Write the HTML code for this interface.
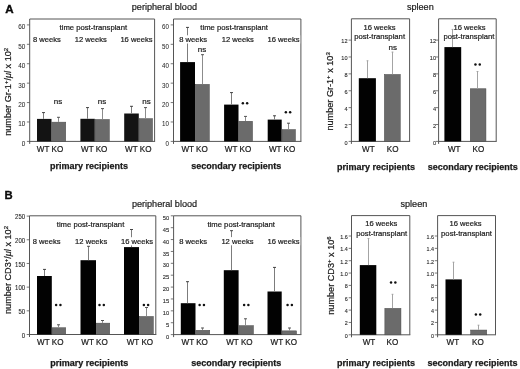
<!DOCTYPE html>
<html><head><meta charset="utf-8"><style>
html,body{margin:0;padding:0;background:#fff;}
body{width:520px;height:369px;overflow:hidden;}
svg{display:block;font-family:"Liberation Sans", sans-serif;will-change:transform;filter:blur(0.35px);}
</style></head><body>
<svg width="520" height="369" viewBox="0 0 520 369">
<rect width="520" height="369" fill="#fff"/>
<path d="M29.70 143.90 V19.00 H154.60 V141.40" fill="none" stroke="#555555" stroke-width="1"/>
<path d="M29.20 141.40 H155.10" fill="none" stroke="#555555" stroke-width="1"/>
<path d="M26.90 141.40 H29.70" stroke="#555555" stroke-width="0.8"/>
<text transform="translate(25.40,145.91) scale(1,1.05)" font-size="6.4" text-anchor="end" font-weight="normal" fill="#2a2a2a" stroke="#2a2a2a" stroke-width="0.04">0</text>
<path d="M26.90 121.98 H29.70" stroke="#555555" stroke-width="0.8"/>
<text transform="translate(25.40,126.49) scale(1,1.05)" font-size="6.4" text-anchor="end" font-weight="normal" fill="#2a2a2a" stroke="#2a2a2a" stroke-width="0.04">10</text>
<path d="M26.90 102.57 H29.70" stroke="#555555" stroke-width="0.8"/>
<text transform="translate(25.40,107.07) scale(1,1.05)" font-size="6.4" text-anchor="end" font-weight="normal" fill="#2a2a2a" stroke="#2a2a2a" stroke-width="0.04">20</text>
<path d="M26.90 83.15 H29.70" stroke="#555555" stroke-width="0.8"/>
<text transform="translate(25.40,87.66) scale(1,1.05)" font-size="6.4" text-anchor="end" font-weight="normal" fill="#2a2a2a" stroke="#2a2a2a" stroke-width="0.04">30</text>
<path d="M26.90 63.73 H29.70" stroke="#555555" stroke-width="0.8"/>
<text transform="translate(25.40,68.24) scale(1,1.05)" font-size="6.4" text-anchor="end" font-weight="normal" fill="#2a2a2a" stroke="#2a2a2a" stroke-width="0.04">40</text>
<path d="M26.90 44.32 H29.70" stroke="#555555" stroke-width="0.8"/>
<text transform="translate(25.40,48.82) scale(1,1.05)" font-size="6.4" text-anchor="end" font-weight="normal" fill="#2a2a2a" stroke="#2a2a2a" stroke-width="0.04">50</text>
<path d="M26.90 24.90 H29.70" stroke="#555555" stroke-width="0.8"/>
<text transform="translate(25.40,29.41) scale(1,1.05)" font-size="6.4" text-anchor="end" font-weight="normal" fill="#2a2a2a" stroke="#2a2a2a" stroke-width="0.04">60</text>
<rect x="37.00" y="118.90" width="14.50" height="22.50" fill="#131313"/>
<rect x="51.75" y="122.15" width="14.00" height="19.25" fill="#6b6b6b" stroke="#4a4a4a" stroke-width="0.5"/>
<rect x="80.40" y="118.80" width="14.40" height="22.60" fill="#131313"/>
<rect x="95.05" y="119.45" width="14.30" height="21.95" fill="#6b6b6b" stroke="#4a4a4a" stroke-width="0.5"/>
<rect x="124.20" y="113.50" width="14.60" height="27.90" fill="#131313"/>
<rect x="139.05" y="118.65" width="13.50" height="22.75" fill="#6b6b6b" stroke="#4a4a4a" stroke-width="0.5"/>
<path d="M43.50 118.90 V112.40" stroke="#7c7c7c" stroke-width="1" fill="none"/>
<path d="M42.00 112.60 H45.00" stroke="#444444" stroke-width="1" fill="none"/>
<path d="M58.50 121.90 V117.10" stroke="#8c8c8c" stroke-width="1" fill="none"/>
<path d="M57.00 117.30 H60.00" stroke="#555555" stroke-width="1" fill="none"/>
<path d="M87.50 118.80 V107.40" stroke="#7c7c7c" stroke-width="1" fill="none"/>
<path d="M86.00 107.60 H89.00" stroke="#444444" stroke-width="1" fill="none"/>
<path d="M102.50 119.20 V108.40" stroke="#8c8c8c" stroke-width="1" fill="none"/>
<path d="M101.00 108.60 H104.00" stroke="#555555" stroke-width="1" fill="none"/>
<path d="M131.50 113.50 V106.10" stroke="#7c7c7c" stroke-width="1" fill="none"/>
<path d="M130.00 106.30 H133.00" stroke="#444444" stroke-width="1" fill="none"/>
<path d="M145.50 118.40 V107.40" stroke="#8c8c8c" stroke-width="1" fill="none"/>
<path d="M144.00 107.60 H147.00" stroke="#555555" stroke-width="1" fill="none"/>
<rect x="58.90" y="22.50" width="68.80" height="8.20" fill="#fff"/>
<rect x="32.30" y="35.00" width="29.10" height="8.20" fill="#fff"/>
<rect x="74.10" y="35.00" width="33.30" height="8.20" fill="#fff"/>
<rect x="119.80" y="35.00" width="33.30" height="8.20" fill="#fff"/>
<text transform="translate(93.30,29.50) scale(1,1.04)" font-size="7.7" text-anchor="middle" font-weight="normal" fill="#1a1a1a" stroke="#1a1a1a" stroke-width="0.2">time post-transplant</text>
<text transform="translate(32.90,41.97) scale(1,1.04)" font-size="7.6" text-anchor="start" font-weight="normal" fill="#1a1a1a" stroke="#1a1a1a" stroke-width="0.2">8 weeks</text>
<text transform="translate(74.70,41.97) scale(1,1.04)" font-size="7.6" text-anchor="start" font-weight="normal" fill="#1a1a1a" stroke="#1a1a1a" stroke-width="0.2">12 weeks</text>
<text transform="translate(120.40,41.97) scale(1,1.04)" font-size="7.6" text-anchor="start" font-weight="normal" fill="#1a1a1a" stroke="#1a1a1a" stroke-width="0.2">16 weeks</text>
<text transform="translate(57.90,103.98)" font-size="8.0" text-anchor="middle" font-weight="normal" fill="#1a1a1a" stroke="#1a1a1a" stroke-width="0.2">ns</text>
<text transform="translate(102.00,103.98)" font-size="8.0" text-anchor="middle" font-weight="normal" fill="#1a1a1a" stroke="#1a1a1a" stroke-width="0.2">ns</text>
<text transform="translate(146.40,103.98)" font-size="8.0" text-anchor="middle" font-weight="normal" fill="#1a1a1a" stroke="#1a1a1a" stroke-width="0.2">ns</text>
<text transform="translate(50.00,152.29) scale(1,1.09)" font-size="8.1" text-anchor="middle" font-weight="normal" fill="#1a1a1a" stroke="#1a1a1a" stroke-width="0.2">WT KO</text>
<text transform="translate(94.20,152.29) scale(1,1.09)" font-size="8.1" text-anchor="middle" font-weight="normal" fill="#1a1a1a" stroke="#1a1a1a" stroke-width="0.2">WT KO</text>
<text transform="translate(138.30,152.29) scale(1,1.09)" font-size="8.1" text-anchor="middle" font-weight="normal" fill="#1a1a1a" stroke="#1a1a1a" stroke-width="0.2">WT KO</text>
<text transform="translate(89.00,169.34)" font-size="9.0" text-anchor="middle" font-weight="bold" fill="#1a1a1a" stroke="#1a1a1a" stroke-width="0.25">primary recipients</text>
<path d="M173.50 143.90 V19.00 H300.90 V141.40" fill="none" stroke="#555555" stroke-width="1"/>
<path d="M173.00 141.40 H301.40" fill="none" stroke="#555555" stroke-width="1"/>
<path d="M170.70 141.40 H173.50" stroke="#555555" stroke-width="0.8"/>
<text transform="translate(168.90,145.83) scale(1,1.05)" font-size="6.2" text-anchor="end" font-weight="normal" fill="#2a2a2a" stroke="#2a2a2a" stroke-width="0.04">0</text>
<path d="M170.70 121.98 H173.50" stroke="#555555" stroke-width="0.8"/>
<text transform="translate(168.90,126.41) scale(1,1.05)" font-size="6.2" text-anchor="end" font-weight="normal" fill="#2a2a2a" stroke="#2a2a2a" stroke-width="0.04">10</text>
<path d="M170.70 102.57 H173.50" stroke="#555555" stroke-width="0.8"/>
<text transform="translate(168.90,107.00) scale(1,1.05)" font-size="6.2" text-anchor="end" font-weight="normal" fill="#2a2a2a" stroke="#2a2a2a" stroke-width="0.04">20</text>
<path d="M170.70 83.15 H173.50" stroke="#555555" stroke-width="0.8"/>
<text transform="translate(168.90,87.58) scale(1,1.05)" font-size="6.2" text-anchor="end" font-weight="normal" fill="#2a2a2a" stroke="#2a2a2a" stroke-width="0.04">30</text>
<path d="M170.70 63.73 H173.50" stroke="#555555" stroke-width="0.8"/>
<text transform="translate(168.90,68.16) scale(1,1.05)" font-size="6.2" text-anchor="end" font-weight="normal" fill="#2a2a2a" stroke="#2a2a2a" stroke-width="0.04">40</text>
<path d="M170.70 44.32 H173.50" stroke="#555555" stroke-width="0.8"/>
<text transform="translate(168.90,48.75) scale(1,1.05)" font-size="6.2" text-anchor="end" font-weight="normal" fill="#2a2a2a" stroke="#2a2a2a" stroke-width="0.04">50</text>
<path d="M170.70 24.90 H173.50" stroke="#555555" stroke-width="0.8"/>
<text transform="translate(168.90,29.33) scale(1,1.05)" font-size="6.2" text-anchor="end" font-weight="normal" fill="#2a2a2a" stroke="#2a2a2a" stroke-width="0.04">60</text>
<rect x="180.10" y="62.10" width="14.90" height="79.30" fill="#020202"/>
<rect x="195.25" y="84.35" width="14.10" height="57.05" fill="#6b6b6b" stroke="#4a4a4a" stroke-width="0.5"/>
<rect x="224.10" y="104.60" width="14.40" height="36.80" fill="#020202"/>
<rect x="238.75" y="121.25" width="13.80" height="20.15" fill="#6b6b6b" stroke="#4a4a4a" stroke-width="0.5"/>
<rect x="267.70" y="119.60" width="14.00" height="21.80" fill="#020202"/>
<rect x="281.95" y="129.55" width="13.50" height="11.85" fill="#6b6b6b" stroke="#4a4a4a" stroke-width="0.5"/>
<path d="M187.50 62.10 V27.20" stroke="#7c7c7c" stroke-width="1" fill="none"/>
<path d="M186.00 27.40 H189.00" stroke="#444444" stroke-width="1" fill="none"/>
<path d="M202.50 84.10 V54.50" stroke="#8c8c8c" stroke-width="1" fill="none"/>
<path d="M201.00 54.70 H204.00" stroke="#555555" stroke-width="1" fill="none"/>
<path d="M231.50 104.60 V92.40" stroke="#7c7c7c" stroke-width="1" fill="none"/>
<path d="M230.00 92.60 H233.00" stroke="#444444" stroke-width="1" fill="none"/>
<path d="M245.50 121.00 V116.20" stroke="#8c8c8c" stroke-width="1" fill="none"/>
<path d="M244.00 116.40 H247.00" stroke="#555555" stroke-width="1" fill="none"/>
<path d="M274.50 119.60 V115.60" stroke="#7c7c7c" stroke-width="1" fill="none"/>
<path d="M273.00 115.80 H276.00" stroke="#444444" stroke-width="1" fill="none"/>
<path d="M288.50 129.30 V123.00" stroke="#8c8c8c" stroke-width="1" fill="none"/>
<path d="M287.00 123.20 H290.00" stroke="#555555" stroke-width="1" fill="none"/>
<rect x="199.70" y="22.80" width="68.80" height="8.20" fill="#fff"/>
<rect x="178.60" y="35.30" width="29.10" height="8.20" fill="#fff"/>
<rect x="221.10" y="35.30" width="33.30" height="8.20" fill="#fff"/>
<rect x="266.90" y="35.30" width="33.30" height="8.20" fill="#fff"/>
<text transform="translate(234.10,29.80) scale(1,1.04)" font-size="7.7" text-anchor="middle" font-weight="normal" fill="#1a1a1a" stroke="#1a1a1a" stroke-width="0.2">time post-transplant</text>
<text transform="translate(179.20,42.27) scale(1,1.04)" font-size="7.6" text-anchor="start" font-weight="normal" fill="#1a1a1a" stroke="#1a1a1a" stroke-width="0.2">8 weeks</text>
<text transform="translate(221.70,42.27) scale(1,1.04)" font-size="7.6" text-anchor="start" font-weight="normal" fill="#1a1a1a" stroke="#1a1a1a" stroke-width="0.2">12 weeks</text>
<text transform="translate(267.50,42.27) scale(1,1.04)" font-size="7.6" text-anchor="start" font-weight="normal" fill="#1a1a1a" stroke="#1a1a1a" stroke-width="0.2">16 weeks</text>
<text transform="translate(202.00,52.48)" font-size="8.0" text-anchor="middle" font-weight="normal" fill="#1a1a1a" stroke="#1a1a1a" stroke-width="0.2">ns</text>
<circle cx="242.85" cy="103.20" r="1.25" fill="#111"/>
<circle cx="247.15" cy="103.20" r="1.25" fill="#111"/>
<circle cx="285.85" cy="112.30" r="1.25" fill="#111"/>
<circle cx="290.15" cy="112.30" r="1.25" fill="#111"/>
<text transform="translate(194.60,152.19) scale(1,1.09)" font-size="8.1" text-anchor="middle" font-weight="normal" fill="#1a1a1a" stroke="#1a1a1a" stroke-width="0.2">WT KO</text>
<text transform="translate(238.00,152.19) scale(1,1.09)" font-size="8.1" text-anchor="middle" font-weight="normal" fill="#1a1a1a" stroke="#1a1a1a" stroke-width="0.2">WT KO</text>
<text transform="translate(282.10,152.19) scale(1,1.09)" font-size="8.1" text-anchor="middle" font-weight="normal" fill="#1a1a1a" stroke="#1a1a1a" stroke-width="0.2">WT KO</text>
<text transform="translate(236.20,169.34)" font-size="9.0" text-anchor="middle" font-weight="bold" fill="#1a1a1a" stroke="#1a1a1a" stroke-width="0.25">secondary recipients</text>
<path d="M351.40 143.90 V18.80 H409.60 V141.40" fill="none" stroke="#555555" stroke-width="1"/>
<path d="M350.90 141.40 H410.10" fill="none" stroke="#555555" stroke-width="1"/>
<path d="M348.60 141.40 H351.40" stroke="#555555" stroke-width="0.8"/>
<text transform="translate(347.60,144.71) scale(1,1.05)" font-size="5.6" text-anchor="end" font-weight="normal" fill="#2a2a2a" stroke="#2a2a2a" stroke-width="0.1">0</text>
<path d="M348.60 124.52 H351.40" stroke="#555555" stroke-width="0.8"/>
<text transform="translate(347.60,127.82) scale(1,1.05)" font-size="5.6" text-anchor="end" font-weight="normal" fill="#2a2a2a" stroke="#2a2a2a" stroke-width="0.1">2</text>
<path d="M348.60 107.63 H351.40" stroke="#555555" stroke-width="0.8"/>
<text transform="translate(347.60,110.94) scale(1,1.05)" font-size="5.6" text-anchor="end" font-weight="normal" fill="#2a2a2a" stroke="#2a2a2a" stroke-width="0.1">4</text>
<path d="M348.60 90.75 H351.40" stroke="#555555" stroke-width="0.8"/>
<text transform="translate(347.60,94.06) scale(1,1.05)" font-size="5.6" text-anchor="end" font-weight="normal" fill="#2a2a2a" stroke="#2a2a2a" stroke-width="0.1">6</text>
<path d="M348.60 73.87 H351.40" stroke="#555555" stroke-width="0.8"/>
<text transform="translate(347.60,77.17) scale(1,1.05)" font-size="5.6" text-anchor="end" font-weight="normal" fill="#2a2a2a" stroke="#2a2a2a" stroke-width="0.1">8</text>
<path d="M348.60 56.98 H351.40" stroke="#555555" stroke-width="0.8"/>
<text transform="translate(347.60,60.29) scale(1,1.05)" font-size="5.6" text-anchor="end" font-weight="normal" fill="#2a2a2a" stroke="#2a2a2a" stroke-width="0.1">10</text>
<path d="M348.60 40.10 H351.40" stroke="#555555" stroke-width="0.8"/>
<text transform="translate(347.60,43.41) scale(1,1.05)" font-size="5.6" text-anchor="end" font-weight="normal" fill="#2a2a2a" stroke="#2a2a2a" stroke-width="0.1">12</text>
<rect x="358.80" y="78.20" width="17.10" height="63.20" fill="#020202"/>
<rect x="384.35" y="74.45" width="15.90" height="66.95" fill="#6b6b6b" stroke="#4a4a4a" stroke-width="0.5"/>
<path d="M367.50 78.20 V60.60" stroke="#a4a4a4" stroke-width="1" fill="none"/>
<path d="M366.60 60.80 H368.40" stroke="#a4a4a4" stroke-width="1" fill="none"/>
<path d="M392.50 74.20 V51.90" stroke="#a4a4a4" stroke-width="1" fill="none"/>
<path d="M391.60 52.10 H393.40" stroke="#a4a4a4" stroke-width="1" fill="none"/>
<text transform="translate(379.60,29.67) scale(1,1.04)" font-size="7.6" text-anchor="middle" font-weight="normal" fill="#1a1a1a" stroke="#1a1a1a" stroke-width="0.2">16 weeks</text>
<text transform="translate(379.60,39.10) scale(1,1.04)" font-size="7.7" text-anchor="middle" font-weight="normal" fill="#1a1a1a" stroke="#1a1a1a" stroke-width="0.2">post-transplant</text>
<text transform="translate(392.70,49.98)" font-size="8.0" text-anchor="middle" font-weight="normal" fill="#1a1a1a" stroke="#1a1a1a" stroke-width="0.2">ns</text>
<text transform="translate(368.40,152.29) scale(1,1.09)" font-size="8.1" text-anchor="middle" font-weight="normal" fill="#1a1a1a" stroke="#1a1a1a" stroke-width="0.2">WT</text>
<text transform="translate(392.60,152.29) scale(1,1.09)" font-size="8.1" text-anchor="middle" font-weight="normal" fill="#1a1a1a" stroke="#1a1a1a" stroke-width="0.2">KO</text>
<text transform="translate(376.00,169.54)" font-size="9.0" text-anchor="middle" font-weight="bold" fill="#1a1a1a" stroke="#1a1a1a" stroke-width="0.25">primary recipients</text>
<path d="M438.60 143.90 V18.80 H496.20 V141.40" fill="none" stroke="#555555" stroke-width="1"/>
<path d="M438.10 141.40 H496.70" fill="none" stroke="#555555" stroke-width="1"/>
<path d="M435.80 141.40 H438.60" stroke="#555555" stroke-width="0.8"/>
<text transform="translate(436.00,144.71) scale(1,1.05)" font-size="5.6" text-anchor="end" font-weight="normal" fill="#2a2a2a" stroke="#2a2a2a" stroke-width="0.1">0</text>
<path d="M435.80 124.52 H438.60" stroke="#555555" stroke-width="0.8"/>
<text transform="translate(436.00,127.82) scale(1,1.05)" font-size="5.6" text-anchor="end" font-weight="normal" fill="#2a2a2a" stroke="#2a2a2a" stroke-width="0.1">2</text>
<path d="M435.80 107.63 H438.60" stroke="#555555" stroke-width="0.8"/>
<text transform="translate(436.00,110.94) scale(1,1.05)" font-size="5.6" text-anchor="end" font-weight="normal" fill="#2a2a2a" stroke="#2a2a2a" stroke-width="0.1">4</text>
<path d="M435.80 90.75 H438.60" stroke="#555555" stroke-width="0.8"/>
<text transform="translate(436.00,94.06) scale(1,1.05)" font-size="5.6" text-anchor="end" font-weight="normal" fill="#2a2a2a" stroke="#2a2a2a" stroke-width="0.1">6</text>
<path d="M435.80 73.87 H438.60" stroke="#555555" stroke-width="0.8"/>
<text transform="translate(436.00,77.17) scale(1,1.05)" font-size="5.6" text-anchor="end" font-weight="normal" fill="#2a2a2a" stroke="#2a2a2a" stroke-width="0.1">8</text>
<path d="M435.80 56.98 H438.60" stroke="#555555" stroke-width="0.8"/>
<text transform="translate(436.00,60.29) scale(1,1.05)" font-size="5.6" text-anchor="end" font-weight="normal" fill="#2a2a2a" stroke="#2a2a2a" stroke-width="0.1">10</text>
<path d="M435.80 40.10 H438.60" stroke="#555555" stroke-width="0.8"/>
<text transform="translate(436.00,43.41) scale(1,1.05)" font-size="5.6" text-anchor="end" font-weight="normal" fill="#2a2a2a" stroke="#2a2a2a" stroke-width="0.1">12</text>
<rect x="444.40" y="47.10" width="16.80" height="94.30" fill="#020202"/>
<rect x="470.25" y="88.75" width="15.70" height="52.65" fill="#6b6b6b" stroke="#4a4a4a" stroke-width="0.5"/>
<path d="M452.50 47.10 V29.20" stroke="#a4a4a4" stroke-width="1" fill="none"/>
<path d="M451.60 29.40 H453.40" stroke="#a4a4a4" stroke-width="1" fill="none"/>
<path d="M477.50 88.50 V71.30" stroke="#a4a4a4" stroke-width="1" fill="none"/>
<path d="M476.60 71.50 H478.40" stroke="#a4a4a4" stroke-width="1" fill="none"/>
<text transform="translate(469.60,29.67) scale(1,1.04)" font-size="7.6" text-anchor="middle" font-weight="normal" fill="#1a1a1a" stroke="#1a1a1a" stroke-width="0.2">16 weeks</text>
<text transform="translate(468.90,39.10) scale(1,1.04)" font-size="7.7" text-anchor="middle" font-weight="normal" fill="#1a1a1a" stroke="#1a1a1a" stroke-width="0.2">post-transplant</text>
<circle cx="475.45" cy="64.40" r="1.25" fill="#111"/>
<circle cx="479.75" cy="64.40" r="1.25" fill="#111"/>
<text transform="translate(454.20,152.29) scale(1,1.09)" font-size="8.1" text-anchor="middle" font-weight="normal" fill="#1a1a1a" stroke="#1a1a1a" stroke-width="0.2">WT</text>
<text transform="translate(478.40,152.29) scale(1,1.09)" font-size="8.1" text-anchor="middle" font-weight="normal" fill="#1a1a1a" stroke="#1a1a1a" stroke-width="0.2">KO</text>
<text transform="translate(472.70,169.54)" font-size="9.0" text-anchor="middle" font-weight="bold" fill="#1a1a1a" stroke="#1a1a1a" stroke-width="0.25">secondary recipients</text>
<path d="M29.50 337.00 V215.80 H155.80 V334.50" fill="none" stroke="#555555" stroke-width="1"/>
<path d="M29.00 334.50 H156.30" fill="none" stroke="#555555" stroke-width="1"/>
<path d="M26.70 334.50 H29.50" stroke="#555555" stroke-width="0.8"/>
<text transform="translate(25.10,337.56) scale(1,1.05)" font-size="6.0" text-anchor="end" font-weight="normal" fill="#2a2a2a" stroke="#2a2a2a" stroke-width="0.1">0</text>
<path d="M26.70 310.82 H29.50" stroke="#555555" stroke-width="0.8"/>
<text transform="translate(25.10,313.88) scale(1,1.05)" font-size="6.0" text-anchor="end" font-weight="normal" fill="#2a2a2a" stroke="#2a2a2a" stroke-width="0.1">50</text>
<path d="M26.70 287.14 H29.50" stroke="#555555" stroke-width="0.8"/>
<text transform="translate(25.10,290.20) scale(1,1.05)" font-size="6.0" text-anchor="end" font-weight="normal" fill="#2a2a2a" stroke="#2a2a2a" stroke-width="0.1">100</text>
<path d="M26.70 263.46 H29.50" stroke="#555555" stroke-width="0.8"/>
<text transform="translate(25.10,266.52) scale(1,1.05)" font-size="6.0" text-anchor="end" font-weight="normal" fill="#2a2a2a" stroke="#2a2a2a" stroke-width="0.1">150</text>
<path d="M26.70 239.78 H29.50" stroke="#555555" stroke-width="0.8"/>
<text transform="translate(25.10,242.84) scale(1,1.05)" font-size="6.0" text-anchor="end" font-weight="normal" fill="#2a2a2a" stroke="#2a2a2a" stroke-width="0.1">200</text>
<path d="M26.70 216.10 H29.50" stroke="#555555" stroke-width="0.8"/>
<text transform="translate(25.10,219.16) scale(1,1.05)" font-size="6.0" text-anchor="end" font-weight="normal" fill="#2a2a2a" stroke="#2a2a2a" stroke-width="0.1">250</text>
<rect x="37.00" y="276.00" width="14.80" height="58.50" fill="#020202"/>
<rect x="52.05" y="327.75" width="13.70" height="6.75" fill="#6b6b6b" stroke="#4a4a4a" stroke-width="0.5"/>
<rect x="80.50" y="260.20" width="15.50" height="74.30" fill="#020202"/>
<rect x="96.25" y="323.15" width="13.50" height="11.35" fill="#6b6b6b" stroke="#4a4a4a" stroke-width="0.5"/>
<rect x="124.00" y="247.10" width="15.00" height="87.40" fill="#020202"/>
<rect x="139.25" y="316.45" width="14.10" height="18.05" fill="#6b6b6b" stroke="#4a4a4a" stroke-width="0.5"/>
<path d="M44.50 276.00 V269.20" stroke="#7c7c7c" stroke-width="1" fill="none"/>
<path d="M43.00 269.40 H46.00" stroke="#444444" stroke-width="1" fill="none"/>
<path d="M58.50 327.50 V324.60" stroke="#8c8c8c" stroke-width="1" fill="none"/>
<path d="M57.00 324.80 H60.00" stroke="#555555" stroke-width="1" fill="none"/>
<path d="M88.50 260.20 V246.00" stroke="#7c7c7c" stroke-width="1" fill="none"/>
<path d="M87.00 246.20 H90.00" stroke="#444444" stroke-width="1" fill="none"/>
<path d="M102.50 322.90 V320.30" stroke="#8c8c8c" stroke-width="1" fill="none"/>
<path d="M101.00 320.50 H104.00" stroke="#555555" stroke-width="1" fill="none"/>
<path d="M131.50 247.10 V229.30" stroke="#7c7c7c" stroke-width="1" fill="none"/>
<path d="M130.00 229.50 H133.00" stroke="#444444" stroke-width="1" fill="none"/>
<path d="M146.50 316.20 V307.30" stroke="#8c8c8c" stroke-width="1" fill="none"/>
<path d="M145.00 307.50 H148.00" stroke="#555555" stroke-width="1" fill="none"/>
<rect x="56.10" y="220.00" width="68.80" height="8.20" fill="#fff"/>
<rect x="32.10" y="237.20" width="29.10" height="8.20" fill="#fff"/>
<rect x="74.50" y="237.20" width="33.30" height="8.20" fill="#fff"/>
<rect x="120.40" y="237.20" width="33.30" height="8.20" fill="#fff"/>
<text transform="translate(90.50,227.00) scale(1,1.04)" font-size="7.7" text-anchor="middle" font-weight="normal" fill="#1a1a1a" stroke="#1a1a1a" stroke-width="0.2">time post-transplant</text>
<text transform="translate(32.70,244.17) scale(1,1.04)" font-size="7.6" text-anchor="start" font-weight="normal" fill="#1a1a1a" stroke="#1a1a1a" stroke-width="0.2">8 weeks</text>
<text transform="translate(75.10,244.17) scale(1,1.04)" font-size="7.6" text-anchor="start" font-weight="normal" fill="#1a1a1a" stroke="#1a1a1a" stroke-width="0.2">12 weeks</text>
<text transform="translate(121.00,244.17) scale(1,1.04)" font-size="7.6" text-anchor="start" font-weight="normal" fill="#1a1a1a" stroke="#1a1a1a" stroke-width="0.2">16 weeks</text>
<circle cx="56.15" cy="305.10" r="1.25" fill="#111"/>
<circle cx="60.45" cy="305.10" r="1.25" fill="#111"/>
<circle cx="99.50" cy="305.10" r="1.25" fill="#111"/>
<circle cx="103.80" cy="305.10" r="1.25" fill="#111"/>
<circle cx="143.85" cy="304.90" r="1.25" fill="#111"/>
<circle cx="148.15" cy="304.90" r="1.25" fill="#111"/>
<text transform="translate(50.30,345.19) scale(1,1.09)" font-size="8.1" text-anchor="middle" font-weight="normal" fill="#1a1a1a" stroke="#1a1a1a" stroke-width="0.2">WT KO</text>
<text transform="translate(94.50,345.19) scale(1,1.09)" font-size="8.1" text-anchor="middle" font-weight="normal" fill="#1a1a1a" stroke="#1a1a1a" stroke-width="0.2">WT KO</text>
<text transform="translate(139.90,345.19) scale(1,1.09)" font-size="8.1" text-anchor="middle" font-weight="normal" fill="#1a1a1a" stroke="#1a1a1a" stroke-width="0.2">WT KO</text>
<text transform="translate(89.20,366.04)" font-size="9.0" text-anchor="middle" font-weight="bold" fill="#1a1a1a" stroke="#1a1a1a" stroke-width="0.25">primary recipients</text>
<path d="M173.60 337.10 V215.80 H300.90 V334.60" fill="none" stroke="#555555" stroke-width="1"/>
<path d="M173.10 334.60 H301.40" fill="none" stroke="#555555" stroke-width="1"/>
<path d="M170.80 334.60 H173.60" stroke="#555555" stroke-width="0.8"/>
<text transform="translate(169.20,338.68) scale(1,1.05)" font-size="5.8" text-anchor="end" font-weight="normal" fill="#2a2a2a" stroke="#2a2a2a" stroke-width="0.1">0</text>
<path d="M170.80 322.72 H173.60" stroke="#555555" stroke-width="0.8"/>
<text transform="translate(169.20,326.80) scale(1,1.05)" font-size="5.8" text-anchor="end" font-weight="normal" fill="#2a2a2a" stroke="#2a2a2a" stroke-width="0.1">5</text>
<path d="M170.80 310.84 H173.60" stroke="#555555" stroke-width="0.8"/>
<text transform="translate(169.20,314.92) scale(1,1.05)" font-size="5.8" text-anchor="end" font-weight="normal" fill="#2a2a2a" stroke="#2a2a2a" stroke-width="0.1">10</text>
<path d="M170.80 298.96 H173.60" stroke="#555555" stroke-width="0.8"/>
<text transform="translate(169.20,303.04) scale(1,1.05)" font-size="5.8" text-anchor="end" font-weight="normal" fill="#2a2a2a" stroke="#2a2a2a" stroke-width="0.1">15</text>
<path d="M170.80 287.08 H173.60" stroke="#555555" stroke-width="0.8"/>
<text transform="translate(169.20,291.16) scale(1,1.05)" font-size="5.8" text-anchor="end" font-weight="normal" fill="#2a2a2a" stroke="#2a2a2a" stroke-width="0.1">20</text>
<path d="M170.80 275.20 H173.60" stroke="#555555" stroke-width="0.8"/>
<text transform="translate(169.20,279.28) scale(1,1.05)" font-size="5.8" text-anchor="end" font-weight="normal" fill="#2a2a2a" stroke="#2a2a2a" stroke-width="0.1">25</text>
<path d="M170.80 263.32 H173.60" stroke="#555555" stroke-width="0.8"/>
<text transform="translate(169.20,267.40) scale(1,1.05)" font-size="5.8" text-anchor="end" font-weight="normal" fill="#2a2a2a" stroke="#2a2a2a" stroke-width="0.1">30</text>
<path d="M170.80 251.44 H173.60" stroke="#555555" stroke-width="0.8"/>
<text transform="translate(169.20,255.52) scale(1,1.05)" font-size="5.8" text-anchor="end" font-weight="normal" fill="#2a2a2a" stroke="#2a2a2a" stroke-width="0.1">35</text>
<path d="M170.80 239.56 H173.60" stroke="#555555" stroke-width="0.8"/>
<text transform="translate(169.20,243.64) scale(1,1.05)" font-size="5.8" text-anchor="end" font-weight="normal" fill="#2a2a2a" stroke="#2a2a2a" stroke-width="0.1">40</text>
<path d="M170.80 227.68 H173.60" stroke="#555555" stroke-width="0.8"/>
<text transform="translate(169.20,231.76) scale(1,1.05)" font-size="5.8" text-anchor="end" font-weight="normal" fill="#2a2a2a" stroke="#2a2a2a" stroke-width="0.1">45</text>
<path d="M170.80 215.80 H173.60" stroke="#555555" stroke-width="0.8"/>
<text transform="translate(169.20,219.88) scale(1,1.05)" font-size="5.8" text-anchor="end" font-weight="normal" fill="#2a2a2a" stroke="#2a2a2a" stroke-width="0.1">50</text>
<rect x="180.80" y="303.20" width="14.70" height="31.40" fill="#020202"/>
<rect x="195.75" y="330.25" width="14.00" height="4.35" fill="#6b6b6b" stroke="#4a4a4a" stroke-width="0.5"/>
<rect x="223.80" y="270.20" width="14.80" height="64.40" fill="#020202"/>
<rect x="238.85" y="325.65" width="14.60" height="8.95" fill="#6b6b6b" stroke="#4a4a4a" stroke-width="0.5"/>
<rect x="267.50" y="291.50" width="14.20" height="43.10" fill="#020202"/>
<rect x="281.95" y="330.85" width="14.60" height="3.75" fill="#6b6b6b" stroke="#4a4a4a" stroke-width="0.5"/>
<path d="M187.50 303.20 V281.50" stroke="#7c7c7c" stroke-width="1" fill="none"/>
<path d="M186.00 281.70 H189.00" stroke="#444444" stroke-width="1" fill="none"/>
<path d="M202.50 330.00 V327.80" stroke="#8c8c8c" stroke-width="1" fill="none"/>
<path d="M201.00 328.00 H204.00" stroke="#555555" stroke-width="1" fill="none"/>
<path d="M231.50 270.20 V230.50" stroke="#7c7c7c" stroke-width="1" fill="none"/>
<path d="M230.00 230.70 H233.00" stroke="#444444" stroke-width="1" fill="none"/>
<path d="M245.50 325.40 V318.60" stroke="#8c8c8c" stroke-width="1" fill="none"/>
<path d="M244.00 318.80 H247.00" stroke="#555555" stroke-width="1" fill="none"/>
<path d="M274.50 291.50 V267.20" stroke="#7c7c7c" stroke-width="1" fill="none"/>
<path d="M273.00 267.40 H276.00" stroke="#444444" stroke-width="1" fill="none"/>
<path d="M289.50 330.60 V327.80" stroke="#8c8c8c" stroke-width="1" fill="none"/>
<path d="M288.00 328.00 H291.00" stroke="#555555" stroke-width="1" fill="none"/>
<rect x="206.80" y="219.90" width="68.80" height="8.20" fill="#fff"/>
<rect x="178.60" y="237.10" width="29.10" height="8.20" fill="#fff"/>
<rect x="220.80" y="237.10" width="33.30" height="8.20" fill="#fff"/>
<rect x="266.90" y="237.10" width="33.30" height="8.20" fill="#fff"/>
<text transform="translate(241.20,226.90) scale(1,1.04)" font-size="7.7" text-anchor="middle" font-weight="normal" fill="#1a1a1a" stroke="#1a1a1a" stroke-width="0.2">time post-transplant</text>
<text transform="translate(179.20,244.07) scale(1,1.04)" font-size="7.6" text-anchor="start" font-weight="normal" fill="#1a1a1a" stroke="#1a1a1a" stroke-width="0.2">8 weeks</text>
<text transform="translate(221.40,244.07) scale(1,1.04)" font-size="7.6" text-anchor="start" font-weight="normal" fill="#1a1a1a" stroke="#1a1a1a" stroke-width="0.2">12 weeks</text>
<text transform="translate(267.50,244.07) scale(1,1.04)" font-size="7.6" text-anchor="start" font-weight="normal" fill="#1a1a1a" stroke="#1a1a1a" stroke-width="0.2">16 weeks</text>
<circle cx="199.65" cy="305.10" r="1.25" fill="#111"/>
<circle cx="203.95" cy="305.10" r="1.25" fill="#111"/>
<circle cx="244.10" cy="305.10" r="1.25" fill="#111"/>
<circle cx="248.40" cy="305.10" r="1.25" fill="#111"/>
<circle cx="287.55" cy="305.10" r="1.25" fill="#111"/>
<circle cx="291.85" cy="305.10" r="1.25" fill="#111"/>
<text transform="translate(194.70,345.39) scale(1,1.09)" font-size="8.1" text-anchor="middle" font-weight="normal" fill="#1a1a1a" stroke="#1a1a1a" stroke-width="0.2">WT KO</text>
<text transform="translate(239.40,345.39) scale(1,1.09)" font-size="8.1" text-anchor="middle" font-weight="normal" fill="#1a1a1a" stroke="#1a1a1a" stroke-width="0.2">WT KO</text>
<text transform="translate(283.80,345.39) scale(1,1.09)" font-size="8.1" text-anchor="middle" font-weight="normal" fill="#1a1a1a" stroke="#1a1a1a" stroke-width="0.2">WT KO</text>
<text transform="translate(236.20,365.54)" font-size="9.0" text-anchor="middle" font-weight="bold" fill="#1a1a1a" stroke="#1a1a1a" stroke-width="0.25">secondary recipients</text>
<path d="M351.50 337.30 V215.60 H409.80 V334.80" fill="none" stroke="#555555" stroke-width="1"/>
<path d="M351.00 334.80 H410.30" fill="none" stroke="#555555" stroke-width="1"/>
<path d="M348.70 334.80 H351.50" stroke="#555555" stroke-width="0.8"/>
<text transform="translate(347.80,337.83) scale(1,1.05)" font-size="5.4" text-anchor="end" font-weight="normal" fill="#2a2a2a" stroke="#2a2a2a" stroke-width="0.1">0</text>
<path d="M348.70 322.45 H351.50" stroke="#555555" stroke-width="0.8"/>
<text transform="translate(347.80,325.48) scale(1,1.05)" font-size="5.4" text-anchor="end" font-weight="normal" fill="#2a2a2a" stroke="#2a2a2a" stroke-width="0.1">2</text>
<path d="M348.70 310.10 H351.50" stroke="#555555" stroke-width="0.8"/>
<text transform="translate(347.80,313.13) scale(1,1.05)" font-size="5.4" text-anchor="end" font-weight="normal" fill="#2a2a2a" stroke="#2a2a2a" stroke-width="0.1">4</text>
<path d="M348.70 297.75 H351.50" stroke="#555555" stroke-width="0.8"/>
<text transform="translate(347.80,300.78) scale(1,1.05)" font-size="5.4" text-anchor="end" font-weight="normal" fill="#2a2a2a" stroke="#2a2a2a" stroke-width="0.1">6</text>
<path d="M348.70 285.40 H351.50" stroke="#555555" stroke-width="0.8"/>
<text transform="translate(347.80,288.43) scale(1,1.05)" font-size="5.4" text-anchor="end" font-weight="normal" fill="#2a2a2a" stroke="#2a2a2a" stroke-width="0.1">8</text>
<path d="M348.70 273.05 H351.50" stroke="#555555" stroke-width="0.8"/>
<text transform="translate(347.80,276.08) scale(1,1.05)" font-size="5.4" text-anchor="end" font-weight="normal" fill="#2a2a2a" stroke="#2a2a2a" stroke-width="0.1">1.0</text>
<path d="M348.70 260.70 H351.50" stroke="#555555" stroke-width="0.8"/>
<text transform="translate(347.80,263.73) scale(1,1.05)" font-size="5.4" text-anchor="end" font-weight="normal" fill="#2a2a2a" stroke="#2a2a2a" stroke-width="0.1">1.2</text>
<path d="M348.70 248.35 H351.50" stroke="#555555" stroke-width="0.8"/>
<text transform="translate(347.80,251.38) scale(1,1.05)" font-size="5.4" text-anchor="end" font-weight="normal" fill="#2a2a2a" stroke="#2a2a2a" stroke-width="0.1">1.4</text>
<path d="M348.70 236.00 H351.50" stroke="#555555" stroke-width="0.8"/>
<text transform="translate(347.80,239.03) scale(1,1.05)" font-size="5.4" text-anchor="end" font-weight="normal" fill="#2a2a2a" stroke="#2a2a2a" stroke-width="0.1">1.6</text>
<rect x="359.80" y="265.10" width="16.50" height="69.70" fill="#020202"/>
<rect x="384.85" y="308.35" width="16.10" height="26.45" fill="#6b6b6b" stroke="#4a4a4a" stroke-width="0.5"/>
<path d="M368.50 265.10 V238.30" stroke="#a4a4a4" stroke-width="1" fill="none"/>
<path d="M367.60 238.50 H369.40" stroke="#a4a4a4" stroke-width="1" fill="none"/>
<path d="M392.50 308.10 V294.10" stroke="#a4a4a4" stroke-width="1" fill="none"/>
<path d="M391.60 294.30 H393.40" stroke="#a4a4a4" stroke-width="1" fill="none"/>
<text transform="translate(381.30,225.67) scale(1,1.04)" font-size="7.6" text-anchor="middle" font-weight="normal" fill="#1a1a1a" stroke="#1a1a1a" stroke-width="0.2">16 weeks</text>
<text transform="translate(381.70,235.50) scale(1,1.04)" font-size="7.7" text-anchor="middle" font-weight="normal" fill="#1a1a1a" stroke="#1a1a1a" stroke-width="0.2">post-transplant</text>
<circle cx="391.05" cy="282.40" r="1.25" fill="#111"/>
<circle cx="395.35" cy="282.40" r="1.25" fill="#111"/>
<text transform="translate(369.00,345.49) scale(1,1.09)" font-size="8.1" text-anchor="middle" font-weight="normal" fill="#1a1a1a" stroke="#1a1a1a" stroke-width="0.2">WT</text>
<text transform="translate(392.40,345.49) scale(1,1.09)" font-size="8.1" text-anchor="middle" font-weight="normal" fill="#1a1a1a" stroke="#1a1a1a" stroke-width="0.2">KO</text>
<text transform="translate(376.00,366.14)" font-size="9.0" text-anchor="middle" font-weight="bold" fill="#1a1a1a" stroke="#1a1a1a" stroke-width="0.25">primary recipients</text>
<path d="M437.60 337.30 V215.60 H495.50 V334.80" fill="none" stroke="#555555" stroke-width="1"/>
<path d="M437.10 334.80 H496.00" fill="none" stroke="#555555" stroke-width="1"/>
<path d="M434.80 334.80 H437.60" stroke="#555555" stroke-width="0.8"/>
<text transform="translate(434.00,337.83) scale(1,1.05)" font-size="5.4" text-anchor="end" font-weight="normal" fill="#2a2a2a" stroke="#2a2a2a" stroke-width="0.1">0</text>
<path d="M434.80 322.45 H437.60" stroke="#555555" stroke-width="0.8"/>
<text transform="translate(434.00,325.48) scale(1,1.05)" font-size="5.4" text-anchor="end" font-weight="normal" fill="#2a2a2a" stroke="#2a2a2a" stroke-width="0.1">2</text>
<path d="M434.80 310.10 H437.60" stroke="#555555" stroke-width="0.8"/>
<text transform="translate(434.00,313.13) scale(1,1.05)" font-size="5.4" text-anchor="end" font-weight="normal" fill="#2a2a2a" stroke="#2a2a2a" stroke-width="0.1">4</text>
<path d="M434.80 297.75 H437.60" stroke="#555555" stroke-width="0.8"/>
<text transform="translate(434.00,300.78) scale(1,1.05)" font-size="5.4" text-anchor="end" font-weight="normal" fill="#2a2a2a" stroke="#2a2a2a" stroke-width="0.1">6</text>
<path d="M434.80 285.40 H437.60" stroke="#555555" stroke-width="0.8"/>
<text transform="translate(434.00,288.43) scale(1,1.05)" font-size="5.4" text-anchor="end" font-weight="normal" fill="#2a2a2a" stroke="#2a2a2a" stroke-width="0.1">8</text>
<path d="M434.80 273.05 H437.60" stroke="#555555" stroke-width="0.8"/>
<text transform="translate(434.00,276.08) scale(1,1.05)" font-size="5.4" text-anchor="end" font-weight="normal" fill="#2a2a2a" stroke="#2a2a2a" stroke-width="0.1">1.0</text>
<path d="M434.80 260.70 H437.60" stroke="#555555" stroke-width="0.8"/>
<text transform="translate(434.00,263.73) scale(1,1.05)" font-size="5.4" text-anchor="end" font-weight="normal" fill="#2a2a2a" stroke="#2a2a2a" stroke-width="0.1">1.2</text>
<path d="M434.80 248.35 H437.60" stroke="#555555" stroke-width="0.8"/>
<text transform="translate(434.00,251.38) scale(1,1.05)" font-size="5.4" text-anchor="end" font-weight="normal" fill="#2a2a2a" stroke="#2a2a2a" stroke-width="0.1">1.4</text>
<path d="M434.80 236.00 H437.60" stroke="#555555" stroke-width="0.8"/>
<text transform="translate(434.00,239.03) scale(1,1.05)" font-size="5.4" text-anchor="end" font-weight="normal" fill="#2a2a2a" stroke="#2a2a2a" stroke-width="0.1">1.6</text>
<rect x="445.50" y="279.40" width="16.30" height="55.40" fill="#020202"/>
<rect x="470.65" y="330.05" width="16.10" height="4.75" fill="#6b6b6b" stroke="#4a4a4a" stroke-width="0.5"/>
<path d="M453.50 279.40 V262.00" stroke="#a4a4a4" stroke-width="1" fill="none"/>
<path d="M452.60 262.20 H454.40" stroke="#a4a4a4" stroke-width="1" fill="none"/>
<path d="M478.50 329.80 V325.00" stroke="#a4a4a4" stroke-width="1" fill="none"/>
<path d="M477.60 325.20 H479.40" stroke="#a4a4a4" stroke-width="1" fill="none"/>
<text transform="translate(465.50,225.67) scale(1,1.04)" font-size="7.6" text-anchor="middle" font-weight="normal" fill="#1a1a1a" stroke="#1a1a1a" stroke-width="0.2">16 weeks</text>
<text transform="translate(466.50,235.50) scale(1,1.04)" font-size="7.7" text-anchor="middle" font-weight="normal" fill="#1a1a1a" stroke="#1a1a1a" stroke-width="0.2">post-transplant</text>
<circle cx="475.90" cy="314.60" r="1.25" fill="#111"/>
<circle cx="480.20" cy="314.60" r="1.25" fill="#111"/>
<text transform="translate(452.90,345.49) scale(1,1.09)" font-size="8.1" text-anchor="middle" font-weight="normal" fill="#1a1a1a" stroke="#1a1a1a" stroke-width="0.2">WT</text>
<text transform="translate(477.90,345.49) scale(1,1.09)" font-size="8.1" text-anchor="middle" font-weight="normal" fill="#1a1a1a" stroke="#1a1a1a" stroke-width="0.2">KO</text>
<text transform="translate(472.40,366.14)" font-size="9.0" text-anchor="middle" font-weight="bold" fill="#1a1a1a" stroke="#1a1a1a" stroke-width="0.25">secondary recipients</text>
<text transform="translate(5.30,13.40)" font-size="11.6" text-anchor="start" font-weight="bold" fill="#0a0a0a" stroke="#0a0a0a" stroke-width="0.35">A</text>
<text transform="translate(4.50,198.90)" font-size="11.3" text-anchor="start" font-weight="bold" fill="#0a0a0a" stroke="#0a0a0a" stroke-width="0.3">B</text>
<text transform="translate(164.40,10.00)" font-size="9.1" text-anchor="middle" font-weight="normal" fill="#1a1a1a" stroke="#1a1a1a" stroke-width="0.2">peripheral blood</text>
<text transform="translate(420.30,10.40)" font-size="9.1" text-anchor="middle" font-weight="normal" fill="#1a1a1a" stroke="#1a1a1a" stroke-width="0.2">spleen</text>
<text transform="translate(164.50,206.80)" font-size="9.1" text-anchor="middle" font-weight="normal" fill="#1a1a1a" stroke="#1a1a1a" stroke-width="0.2">peripheral blood</text>
<text transform="translate(413.90,207.20)" font-size="9.1" text-anchor="middle" font-weight="normal" fill="#1a1a1a" stroke="#1a1a1a" stroke-width="0.2">spleen</text>
<text transform="translate(11.00,91.80) scale(1,1.1) rotate(-90)" font-size="8.3" text-anchor="middle" fill="#1a1a1a" stroke="#1a1a1a" stroke-width="0.2">number Gr-1<tspan dy="-3" font-size="5.5">+</tspan><tspan dy="3">/<tspan font-style="italic">&#956;l</tspan> x 10</tspan><tspan dy="-3.2" font-size="5.5">2</tspan></text>
<text transform="translate(333.40,91.40) scale(1,1.1) rotate(-90)" font-size="8.3" text-anchor="middle" fill="#1a1a1a" stroke="#1a1a1a" stroke-width="0.2">number Gr-1<tspan dy="-3" font-size="5.5">+</tspan><tspan dy="3"> x 10</tspan><tspan dy="-3.2" font-size="5.5">3</tspan></text>
<text transform="translate(11.00,270.00) scale(1,1.1) rotate(-90)" font-size="8.3" text-anchor="middle" fill="#1a1a1a" stroke="#1a1a1a" stroke-width="0.2">number CD3<tspan dy="-3" font-size="5.5">+</tspan><tspan dy="3">/<tspan font-style="italic">&#956;l</tspan> x 10</tspan><tspan dy="-3.2" font-size="5.5">2</tspan></text>
<text transform="translate(333.90,275.50) scale(1,1.1) rotate(-90)" font-size="8.3" text-anchor="middle" fill="#1a1a1a" stroke="#1a1a1a" stroke-width="0.2">number CD3<tspan dy="-3" font-size="5.5">+</tspan><tspan dy="3"> x 10</tspan><tspan dy="-3.2" font-size="5.5">6</tspan></text>
</svg>
</body></html>
